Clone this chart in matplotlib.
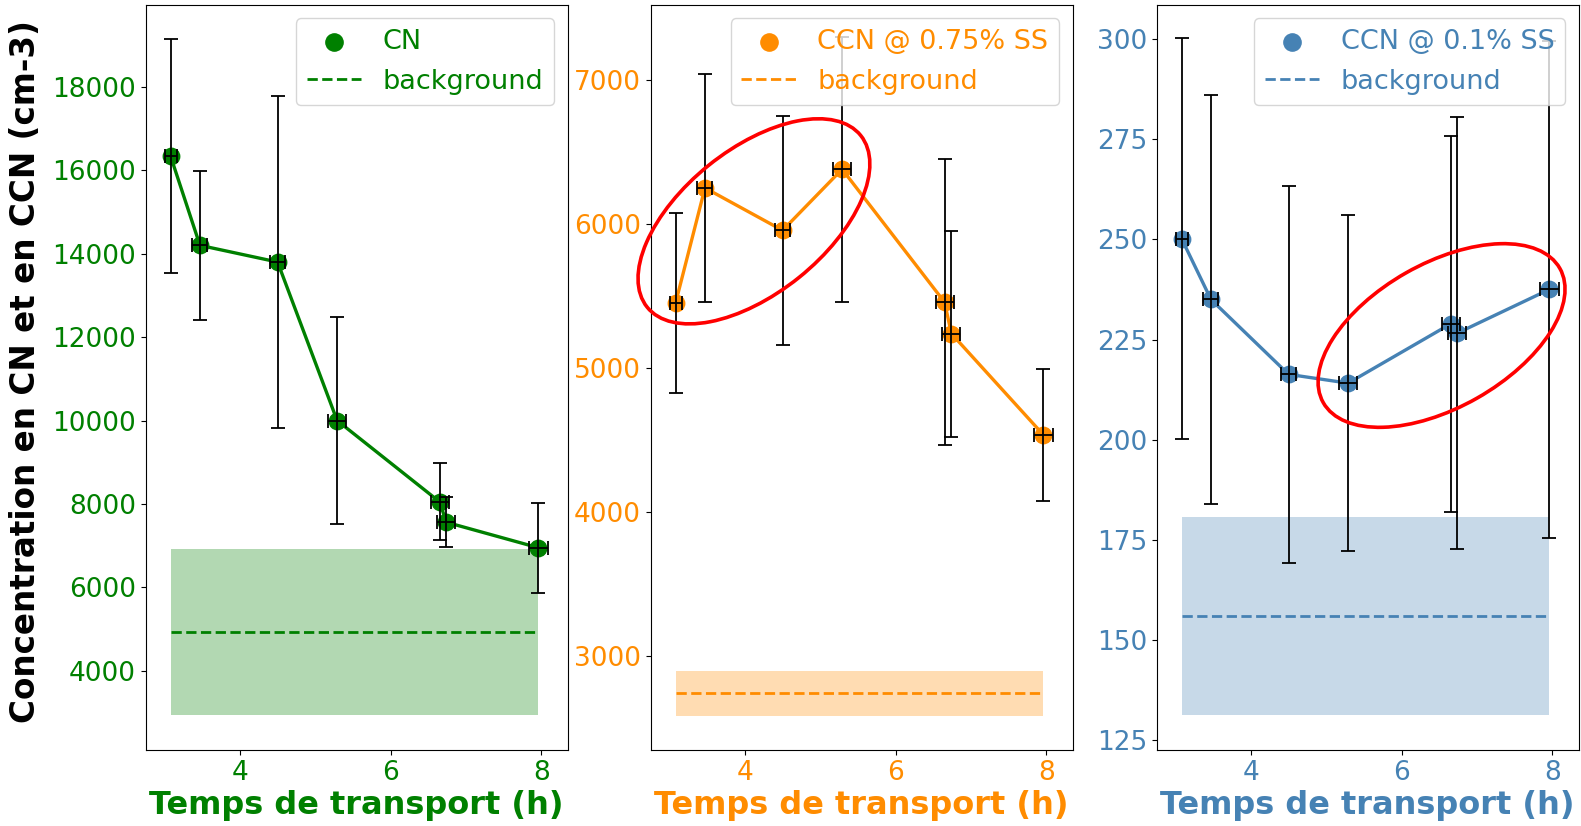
import matplotlib
matplotlib.use('Agg')
import matplotlib.pyplot as plt
from matplotlib.patches import Ellipse
from matplotlib.transforms import ScaledTranslation
import numpy as np

plt.rcParams['font.family'] = 'DejaVu Sans'
plt.rcParams['font.size'] = 19

# transport time (h), same sampling for the three series
temps = [3.08, 3.47, 4.50, 5.29, 6.65, 6.74, 7.96]
temps_err = [0.08, 0.10, 0.10, 0.12, 0.12, 0.12, 0.13]

cn = [16340, 14200, 13800, 10000, 8050, 7560, 6950]
cn_err = [2800, 1780, 3970, 2480, 920, 600, 1080]
cn_bg, cn_bg_err = 4920, 1990

ccn075 = [5450, 6250, 5955, 6380, 5456, 5238, 4535]
ccn075_err = [627, 790, 798, 920, 995, 715, 460]
ccn075_bg, ccn075_bg_err = 2740, 156

ccn01 = [250.2, 235.0, 216.3, 214.1, 228.9, 226.6, 237.5]
ccn01_err = [50, 51, 47, 42, 47, 54, 62]
ccn01_bg, ccn01_bg_err = 156.0, 24.7

panels = [
    dict(y=cn, yerr=cn_err, bg=cn_bg, bgerr=cn_bg_err, color='green',
         label='CN', ylim=(2100, 19970), yticks=np.arange(4000, 18001, 2000),
         left=145.7),
    dict(y=ccn075, yerr=ccn075_err, bg=ccn075_bg, bgerr=ccn075_bg_err, color='darkorange',
         label='CCN @ 0.75% SS', ylim=(2345, 7523), yticks=np.arange(3000, 7001, 1000),
         left=650.7),
    dict(y=ccn01, yerr=ccn01_err, bg=ccn01_bg, bgerr=ccn01_bg_err, color='steelblue',
         label='CCN @ 0.1% SS', ylim=(122.5, 308.6), yticks=np.arange(125, 301, 25),
         left=1156.7),
]

# red circled regions: centre in data coords, size in inches, angle
highlights = {1: (4.12, 6018, 2.74, 1.44, 38.8), 2: (6.53, 226, 2.72, 1.44, 29.6)}

W, H = 1581, 826
fig = plt.figure(figsize=(W / 100, H / 100), dpi=100)

axes = []
for i, p in enumerate(panels):
    ax = fig.add_axes([p['left'] / W, 1 - 750 / H, 422 / W, 745.3 / H])
    c = p['color']
    x0, x1 = temps[0], temps[-1]
    ax.fill_between([x0, x1], p['bg'] - p['bgerr'], p['bg'] + p['bgerr'],
                    color=c, alpha=0.3, lw=0)
    ax.plot([x0, x1], [p['bg'], p['bg']], '--', color=c, lw=2, label='background')
    ax.plot(temps, p['y'], '-', color=c, lw=2.4)
    ax.scatter(temps, p['y'], s=140, color=c, label=p['label'], zorder=3)
    ax.errorbar(temps, p['y'], yerr=p['yerr'], xerr=temps_err, fmt='none',
                ecolor='k', elinewidth=1.3, capsize=5, capthick=1.3, zorder=4)

    ax.set_xlim(2.75, 8.35)
    ax.set_ylim(*p['ylim'])
    ax.set_xticks([4, 6, 8])
    ax.set_yticks(p['yticks'])
    ax.tick_params(axis='both', labelsize=19, labelcolor=c)
    ax.set_xlabel('Temps de transport (h)', color=c, fontsize=23,
                  fontweight='bold', labelpad=3)

    handles, labels = ax.get_legend_handles_labels()
    ax.legend(handles[::-1], labels[::-1], loc='upper right', fontsize=19.5,
              labelcolor=c, scatterpoints=1, markerscale=1.05)

    if i in highlights:
        xc, yc, w, h, ang = highlights[i]
        tr = fig.dpi_scale_trans + ScaledTranslation(xc, yc, ax.transData)
        ax.add_patch(Ellipse((0, 0), w, h, angle=ang, transform=tr, fill=False,
                             edgecolor='red', lw=2.6, zorder=6, clip_on=False))
    axes.append(ax)

axes[0].set_ylabel('Concentration en CN et en CCN (cm-3)', fontsize=23.5,
                   fontweight='bold')
axes[0].yaxis.set_label_coords(-0.246, 0.508)

plt.savefig('out.png', dpi=100)
